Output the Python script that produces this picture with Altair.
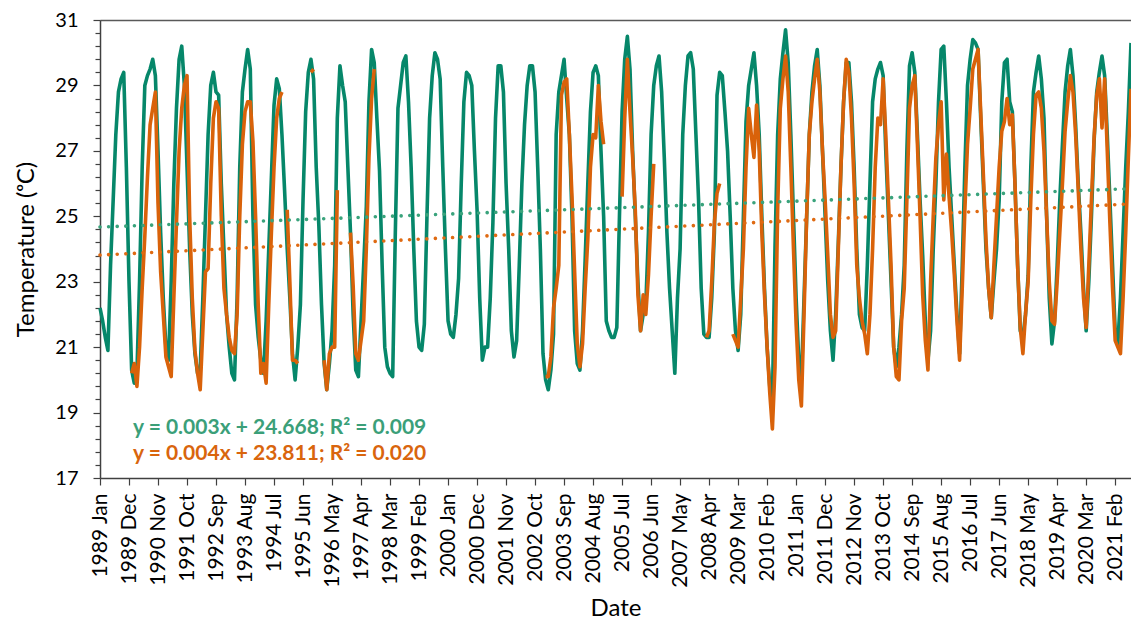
import altair as alt
import pandas as pd

# ---------------- data ----------------
START_YEAR = 1989

# monthly values, 1989 Jan ... 2021 Aug (one row per year)
GREEN_SERIES = [
    22.2, 21.8, 21.3, 20.9, 23.5, 25.5, 27.5, 28.8, 29.2, 29.4, 26.5, 23.0,  # 1989
    20.3, 19.9, 20.2, 23.0, 26.5, 29.0, 29.3, 29.5, 29.8, 29.3, 27.0, 24.5,  # 1990
    22.5, 21.0, 20.6, 23.0, 26.0, 28.3, 29.8, 30.2, 29.0, 26.5, 24.0, 22.0,  # 1991
    20.8, 20.2, 20.3, 22.5, 25.0, 27.5, 29.0, 29.4, 28.8, 28.7, 26.0, 24.0,  # 1992
    22.0, 21.0, 20.2, 20.0, 22.5, 26.5, 28.8, 29.5, 30.1, 29.5, 25.0, 22.3,  # 1993
    21.3, 20.6, 20.2, 21.8, 24.0, 26.2, 28.4, 29.2, 28.9, 27.5, 25.8, 24.0,  # 1994
    22.5, 20.8, 20.0, 21.0, 22.3, 25.5, 28.2, 29.4, 29.8, 29.2, 26.5, 24.7,  # 1995
    22.3, 20.5, 19.7, 20.5, 21.5, 23.5, 28.0, 29.6, 29.0, 28.5, 26.5, 24.5,  # 1996
    22.0, 20.3, 20.1, 21.8, 23.5, 25.3, 28.5, 30.1, 29.7, 28.0, 26.4, 23.5,  # 1997
    21.0, 20.4, 20.2, 20.1, 24.5, 28.3, 29.0, 29.7, 29.9, 28.5, 26.5, 24.0,  # 1998
    21.8, 21.0, 20.9, 21.7, 25.0, 28.0, 29.3, 30.0, 29.8, 29.2, 26.5, 24.0,  # 1999
    21.8, 21.4, 21.3, 22.0, 23.1, 26.0, 28.5, 29.4, 29.3, 29.0, 27.0, 25.2,  # 2000
    22.5, 20.6, 21.0, 21.0, 22.5, 24.8, 28.0, 29.6, 29.6, 28.8, 26.0, 24.0,  # 2001
    21.5, 20.7, 21.2, 23.5, 26.0, 27.8, 29.0, 29.6, 29.6, 28.8, 26.5, 24.0,  # 2002
    20.8, 20.0, 19.7, 20.3, 21.4, 27.5, 28.8, 29.3, 29.8, 28.6, 27.5, 25.0,  # 2003
    21.5, 20.5, 20.3, 21.5, 23.7, 26.0, 28.2, 29.4, 29.6, 29.3, 27.0, 25.0,  # 2004
    21.8, 21.5, 21.3, 21.3, 21.6, 25.0, 28.2, 29.8, 30.5, 29.5, 27.0, 25.0,  # 2005
    23.0, 21.5, 22.0, 22.3, 24.5, 27.5, 29.0, 29.6, 29.9, 28.8, 26.8, 24.5,  # 2006
    22.8, 21.5, 20.2, 22.5, 24.0, 27.5, 29.0, 29.9, 30.0, 29.5, 27.5, 25.5,  # 2007
    22.8, 21.4, 21.3, 21.3, 22.5, 24.5, 28.7, 29.4, 29.3, 28.2, 27.0, 25.0,  # 2008
    22.8, 21.5, 20.9, 22.0, 25.0, 27.9, 29.0, 29.5, 30.0, 29.0, 27.5, 25.0,  # 2009
    22.8, 21.0, 19.8, 19.3, 24.1, 27.5, 29.2, 30.0, 30.7, 29.7, 27.5, 25.0,  # 2010
    22.5, 20.6, 20.0, 22.5, 25.0, 27.5, 28.8, 29.6, 30.1, 29.0, 27.0, 25.0,  # 2011
    23.0, 21.5, 20.6, 22.0, 24.2, 26.5, 28.5, 29.7, 29.7, 28.5, 26.5, 24.0,  # 2012
    22.0, 21.6, 21.5, 23.5, 26.0, 28.5, 29.2, 29.5, 29.7, 29.3, 27.0, 25.0,  # 2013
    23.0, 21.0, 20.4, 21.0, 22.0, 23.5, 27.0, 29.6, 30.0, 29.4, 27.5, 25.5,  # 2014
    23.8, 21.8, 20.6, 21.5, 24.0, 26.0, 28.5, 30.1, 30.2, 28.5, 26.5, 25.0,  # 2015
    23.5, 22.0, 20.8, 23.5, 26.5, 29.0, 29.8, 30.4, 30.3, 30.1, 28.0, 26.0,  # 2016
    24.0, 22.8, 21.9, 23.0, 24.0, 25.5, 28.5, 29.7, 29.8, 28.5, 28.2, 26.0,  # 2017
    23.5, 21.5, 21.3, 22.0, 23.2, 26.5, 28.8, 29.4, 29.9, 29.2, 28.0, 25.0,  # 2018
    22.5, 21.1, 21.8, 23.5, 25.5, 27.2, 28.8, 29.6, 30.1, 29.3, 27.8, 26.0,  # 2019
    24.5, 22.8, 21.5, 23.0, 25.0, 27.3, 28.8, 29.4, 29.9, 29.3, 27.5, 25.5,  # 2020
    23.5, 21.5, 21.1, 22.5, 24.5, 26.5, 28.2, 30.3,                          # 2021
]

N = None
ORANGE_SERIES = [
    N, N, N, N, N, N, N, N, N, N, N, N,                                      # 1989
    20.2, 20.5, 19.8, 21.0, 22.8, 24.4, 26.2, 27.8, 28.3, 28.8, 25.4, 23.3,  # 1990
    22.0, 20.7, 20.4, 20.1, 22.5, 24.8, 27.0, 28.3, 29.0, 29.3, 25.0, 22.5,  # 1991
    20.9, 20.2, 19.7, 21.5, 23.3, 23.4, 26.0, 28.0, 28.5, 28.3, 25.0, 22.8,  # 1992
    22.0, 21.3, 20.9, 20.8, 22.0, 25.0, 27.2, 28.2, 28.5, 28.5, 27.3, 25.0,  # 1993
    22.3, 20.2, 20.5, 19.9, 22.3, 24.5, 26.5, 28.0, 28.6, 28.8, N, 25.2,     # 1994
    23.0, 20.6, 20.6, 20.5, N, N, N, N, 29.4, 29.5, N, N,                    # 1995
    N, 20.6, 19.7, 20.8, 21.0, 21.0, 25.8, N, N, N, N, 24.5,                 # 1996
    22.9, 20.8, 20.6, 21.2, 21.8, 24.0, 26.8, 28.6, 29.5, N, N, N,           # 1997
    N, N, N, N, N, N, N, N, N, N, N, N,                                      # 1998
    N, N, N, N, N, N, N, N, N, N, N, N,                                      # 1999
    N, N, N, N, N, N, N, N, N, N, N, N,                                      # 2000
    N, N, N, N, N, N, N, N, N, N, N, N,                                      # 2001
    N, N, N, N, N, N, N, N, N, N, N, N,                                      # 2002
    N, 20.1, 20.1, 20.7, 22.2, 22.8, 23.5, 28.7, 29.1, 29.2, 27.5, 25.6,     # 2003
    23.3, 21.1, 20.4, 21.1, 22.8, 24.3, 26.5, 27.5, 27.4, 29.0, 27.9, 27.2,  # 2004
    N, N, N, N, N, N, 25.6, 28.0, 29.8, 28.2, 26.8, 25.2,                    # 2005
    22.6, 21.5, 22.6, 22.0, 23.2, 25.0, 26.6, N, N, N, N, N,                 # 2006
    N, N, N, N, N, N, N, N, N, N, N, N,                                      # 2007
    N, N, 21.3, 21.5, 23.0, 24.8, 25.7, 26.0, N, N, N, N,                    # 2008
    21.4, 21.2, 21.0, 22.5, 24.0, 26.5, 28.3, 27.5, 26.8, 28.4, 27.0, 24.5,  # 2009
    22.6, 21.0, 19.6, 18.5, 20.4, 25.2, 28.3, 29.2, 29.9, 28.8, 26.5, 24.0,  # 2010
    21.7, 20.0, 19.2, 22.0, 25.0, 27.5, 28.5, 29.2, 29.8, 28.8, 27.0, 25.5,  # 2011
    23.8, 22.0, 21.3, 21.5, 24.0, 26.5, 28.5, 29.8, 29.4, 28.0, 26.0, 23.5,  # 2012
    22.5, 21.8, 21.4, 20.8, 22.0, 24.0, 26.5, 28.0, 27.8, 29.2, 27.5, 25.5,  # 2013
    23.5, 21.0, 20.1, 20.0, 21.8, 22.8, 25.5, 28.3, 29.0, 29.3, 27.2, 25.0,  # 2014
    22.6, 21.2, 20.3, 23.0, 25.0, 26.8, 27.8, 28.5, 25.5, 26.9, 25.6, 24.5,  # 2015
    23.2, 21.8, 20.6, 22.8, 25.2, 27.2, 28.3, 29.5, 29.8, 30.1, 28.2, 26.3,  # 2016
    24.3, 22.8, 21.9, 23.5, 25.0, 26.5, 27.6, 27.9, 28.6, 27.8, 28.1, 26.0,  # 2017
    23.5, 21.6, 20.8, 22.0, 23.0, 25.5, 27.5, 28.7, 28.8, 28.3, 27.0, 25.0,  # 2018
    23.0, 21.8, 21.7, 23.0, 24.5, 26.0, 27.6, 28.5, 29.3, 28.8, 27.5, 25.8,  # 2019
    24.0, 22.5, 21.6, 23.5, 25.5, 27.4, 28.7, 29.2, 27.7, 29.2, 27.0, 24.8,  # 2020
    22.8, 21.2, 21.0, 20.8, 22.5, 24.5, 26.8, 28.9,                          # 2021
]

TICK_LABELS = [
    "1989 Jan", "1989 Dec", "1990 Nov", "1991 Oct", "1992 Sep", "1993 Aug",
    "1994 Jul", "1995 Jun", "1996 May", "1997 Apr", "1998 Mar", "1999 Feb",
    "2000 Jan", "2000 Dec", "2001 Nov", "2002 Oct", "2003 Sep", "2004 Aug",
    "2005 Jul", "2006 Jun", "2007 May", "2008 Apr", "2009 Mar", "2010 Feb",
    "2011 Jan", "2011 Dec", "2012 Nov", "2013 Oct", "2014 Sep", "2015 Aug",
    "2016 Jul", "2017 Jun", "2018 May", "2019 Apr", "2020 Mar", "2021 Feb",
]
TICK_STEP = 11  # months between labelled ticks

# trend lines as printed on the chart (x = 1, 2, ... months)
GREEN_TREND = (0.003, 24.668)
ORANGE_TREND = (0.004, 23.811)
GREEN_EQ = "y = 0.003x + 24.668; R² = 0.009"
ORANGE_EQ = "y = 0.004x + 23.811; R² = 0.020"

# ---------------- styling ----------------
GREEN_LINE = "#06876a"
ORANGE_LINE = "#d9620a"
GREEN_DOT = "#3aa37c"
ORANGE_DOT = "#df6a12"
GREEN_TXT = "#3b9f79"
ORANGE_TXT = "#d9650d"
AXIS_COL = "#404040"
FONT = "Lato"

# ---------------- tables ----------------
n = len(GREEN_SERIES)
months = list(range(n))
green_df = pd.DataFrame({"m": months, "temp": GREEN_SERIES})

seg, seg_ids, prev = 0, [], None
for v in ORANGE_SERIES:
    if v is not None and prev is None:
        seg += 1
    seg_ids.append(seg)
    prev = v
orange_df = pd.DataFrame({"m": months, "temp": ORANGE_SERIES, "seg": seg_ids})
orange_df = orange_df.dropna()

last = n - 1
trend_rows = []
for name, (slope, icpt) in (("green", GREEN_TREND), ("orange", ORANGE_TREND)):
    for m in (0, last):
        trend_rows.append({"series": name, "m": m, "temp": slope * (m + 1) + icpt})
trend_df = pd.DataFrame(trend_rows)

# ---------------- scales & axes ----------------
xscale = alt.Scale(domain=[0, last], nice=False, zero=False)
yscale = alt.Scale(domain=[17, 31], nice=False, zero=False)

x_values = [i * TICK_STEP for i in range(len(TICK_LABELS))]
label_js = "[" + ",".join("'" + s + "'" for s in TICK_LABELS) + "]"
x_axis = alt.Axis(
    values=x_values,
    labelExpr=label_js + "[round(datum.value / " + str(TICK_STEP) + ")]",
    labelAngle=270, labelAlign="right", labelBaseline="middle",
    labelFont=FONT, labelFontSize=21, labelColor="#000000", labelPadding=8,
    labelOverlap=False, labelFlush=False,
    tickSize=7, tickColor=AXIS_COL, tickWidth=1.2,
    domainColor=AXIS_COL, domainWidth=1.5, grid=False,
    title="Date", titleFont=FONT, titleFontSize=24, titleFontWeight="normal",
    titleColor="#000000", titlePadding=9,
)

y_values = [round(17 + 0.4 * i, 1) for i in range(36)]
MAJOR = "abs((datum.value - 17) / 2 - round((datum.value - 17) / 2)) < 0.001"
y_axis = alt.Axis(
    values=y_values,
    labelExpr=MAJOR + " ? format(datum.value, '.0f') : ''",
    labelFont=FONT, labelFontSize=20, labelColor="#000000", labelPadding=15,
    labelOverlap=False, labelFlush=False,
    tickSize={"condition": {"test": MAJOR, "value": 7}, "value": 5},
    tickColor=AXIS_COL, tickWidth=1.2,
    domainColor=AXIS_COL, domainWidth=1.5, grid=False,
    title="Temperature (ᵒC)", titleFont=FONT, titleFontSize=24,
    titleFontWeight="normal", titleColor="#000000", titlePadding=16,
)


def yenc():
    return alt.Y("temp:Q", scale=yscale, axis=y_axis)


green_layer = alt.Chart(green_df).mark_line(
    color=GREEN_LINE, strokeWidth=3.6, strokeJoin="round"
).encode(
    x=alt.X("m:Q", scale=xscale, axis=x_axis),
    y=yenc(),
)

orange_layer = alt.Chart(orange_df).mark_line(
    color=ORANGE_LINE, strokeWidth=3.6, strokeJoin="round"
).encode(
    x=alt.X("m:Q", scale=xscale, axis=None),
    y=yenc(),
    detail="seg:N",
)

trend_layer = alt.Chart(trend_df).mark_line(
    strokeWidth=3.6, strokeDash=[0.01, 8.6], strokeCap="round"
).encode(
    x=alt.X("m:Q", scale=xscale,
            axis=alt.Axis(orient="top", labels=False, ticks=False, title=None,
                          domainColor="#595959", domainWidth=1.5, grid=False)),
    y=yenc(),
    color=alt.Color("series:N",
                    scale=alt.Scale(domain=["green", "orange"], range=[GREEN_DOT, ORANGE_DOT]),
                    legend=None),
)

eq_green = alt.Chart(pd.DataFrame({"t": [GREEN_EQ]})).mark_text(
    align="left", baseline="middle", font=FONT, fontSize=21,
    fontWeight="bold", color=GREEN_TXT
).encode(text="t:N", x=alt.value(33), y=alt.value(408))

eq_orange = alt.Chart(pd.DataFrame({"t": [ORANGE_EQ]})).mark_text(
    align="left", baseline="middle", font=FONT, fontSize=21,
    fontWeight="bold", color=ORANGE_TXT
).encode(text="t:N", x=alt.value(33), y=alt.value(434))

chart = alt.layer(
    green_layer, orange_layer, trend_layer, eq_green, eq_orange
).resolve_axis(x="independent").properties(
    width=1031, height=458,
    autosize=alt.AutoSizeParams(type="none"),
    padding={"left": 92, "top": 12, "right": 0, "bottom": 146},
).configure_view(stroke=None).configure(background="#ffffff")

chart.save("out.html", embed_options={"renderer": "svg", "actions": False})
